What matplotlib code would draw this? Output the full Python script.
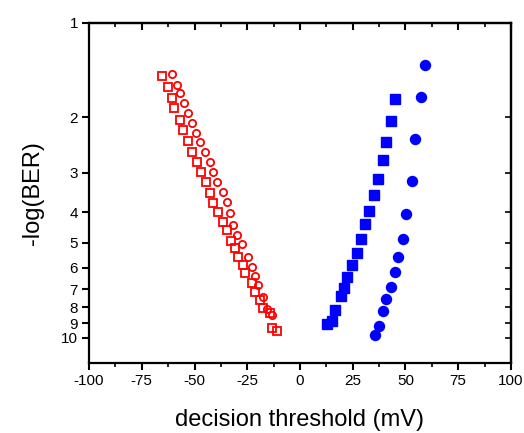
import numpy as np
import matplotlib
matplotlib.use('Agg')
import matplotlib.pyplot as plt
from matplotlib.ticker import FixedLocator, NullLocator, MultipleLocator

plt.rcParams['font.family'] = 'Liberation Sans'
plt.rcParams['axes.unicode_minus'] = False

# red, open squares (decision threshold in mV, -log(BER))
red_sq_x = [-65.3, -62.4, -60.5, -59.6, -56.9, -55.3, -52.9, -51.3, -49.0, -46.9,
            -44.7, -42.7, -41.1, -38.7, -36.4, -34.7, -32.7, -30.8, -29.2, -26.9,
            -26.1, -22.9, -21.3, -19.0, -17.4, -14.2, -13.4, -11.0]
red_sq_y = [1.476, 1.604, 1.730, 1.869, 2.036, 2.191, 2.370, 2.568, 2.763, 2.972,
            3.197, 3.465, 3.722, 3.981, 4.282, 4.550, 4.913, 5.172, 5.533, 5.877,
            6.245, 6.720, 7.145, 7.592, 8.066, 8.365, 9.27, 9.50]

# red, open circles
red_ci_x = [-60.8, -58.4, -56.9, -54.8, -52.9, -51.3, -49.3, -47.4, -45.0, -42.7,
            -41.1, -39.5, -36.4, -34.7, -33.2, -31.6, -30.0, -27.6, -24.5, -22.9,
            -21.3, -19.7, -17.4, -15.8, -13.4]
red_ci_y = [1.455, 1.577, 1.675, 1.795, 1.940, 2.086, 2.235, 2.387, 2.568, 2.763,
            2.972, 3.197, 3.440, 3.701, 4.029, 4.387, 4.721, 5.041, 5.533, 5.953,
            6.37, 6.80, 7.41, 8.07, 8.47]

# blue, filled squares
blue_sq_x = [44.9, 43.3, 40.9, 39.3, 36.8, 34.9, 32.8, 30.9, 29.1, 26.9,
             24.8, 22.5, 21.1, 19.3, 16.8, 15.2, 12.9]
blue_sq_y = [1.743, 2.047, 2.392, 2.729, 3.128, 3.53, 3.952, 4.355, 4.87, 5.385,
             5.877, 6.40, 6.97, 7.35, 8.15, 8.82, 9.06]

# blue, filled circles
blue_ci_x = [59.1, 57.5, 54.7, 53.2, 50.2, 49.0, 46.4, 44.9, 43.3, 40.9,
             39.3, 37.3, 35.4]
blue_ci_y = [1.362, 1.725, 2.345, 3.18, 4.06, 4.86, 5.53, 6.20, 6.92, 7.55,
             8.21, 9.18, 9.80]

x_ticks = [-100, -75, -50, -25, 0, 25, 50, 75, 100]
y_ticks = [1, 2, 3, 4, 5, 6, 7, 8, 9, 10]

fig = plt.figure(figsize=(5.24, 4.33), dpi=100)
ax = fig.add_axes([0.170, 0.162, 0.805, 0.786])

ax.plot(red_sq_x, red_sq_y, 's', mfc='none', mec='#ff0000', mew=1.3, ms=5.4, ls='none')
ax.plot(red_ci_x, red_ci_y, 'o', mfc='none', mec='#ff0000', mew=1.3, ms=5.2, ls='none')
ax.plot(blue_sq_x, blue_sq_y, 's', color='#0000ff', ms=6.6, ls='none')
ax.plot(blue_ci_x, blue_ci_y, 'o', color='#0000ff', ms=7.2, ls='none')

ax.set_xlim(-100, 100)
ax.set_yscale('log')
ax.set_ylim(12.0, 1)

ax.xaxis.set_major_locator(FixedLocator(x_ticks))
ax.xaxis.set_minor_locator(MultipleLocator(12.5))
ax.set_xticklabels([str(v) for v in x_ticks])
ax.yaxis.set_major_locator(FixedLocator(y_ticks))
ax.yaxis.set_minor_locator(NullLocator())
ax.set_yticklabels([str(v) for v in y_ticks])

ax.tick_params(which='major', direction='out', length=5, width=1.5, labelsize=11, pad=3)
ax.tick_params(which='minor', direction='out', length=3, width=1.2)

for s in ax.spines.values():
    s.set_linewidth(1.6)

top = ax.secondary_xaxis('top')
top.xaxis.set_major_locator(FixedLocator(x_ticks))
top.xaxis.set_minor_locator(MultipleLocator(12.5))
top.tick_params(which='major', direction='in', length=5, width=1.5, labeltop=False)
top.tick_params(which='minor', direction='in', length=3, width=1.2)
top.spines['top'].set_linewidth(1.6)

right = ax.secondary_yaxis('right')
right.yaxis.set_major_locator(FixedLocator(y_ticks))
right.yaxis.set_minor_locator(NullLocator())
right.tick_params(which='major', direction='in', length=4, width=1.2, labelright=False)
right.spines['right'].set_linewidth(1.6)

ax.set_xlabel('decision threshold (mV)', fontsize=17, labelpad=15)
ax.set_ylabel('-log(BER)', fontsize=17, labelpad=12)

fig.savefig('out.png', dpi=100)
